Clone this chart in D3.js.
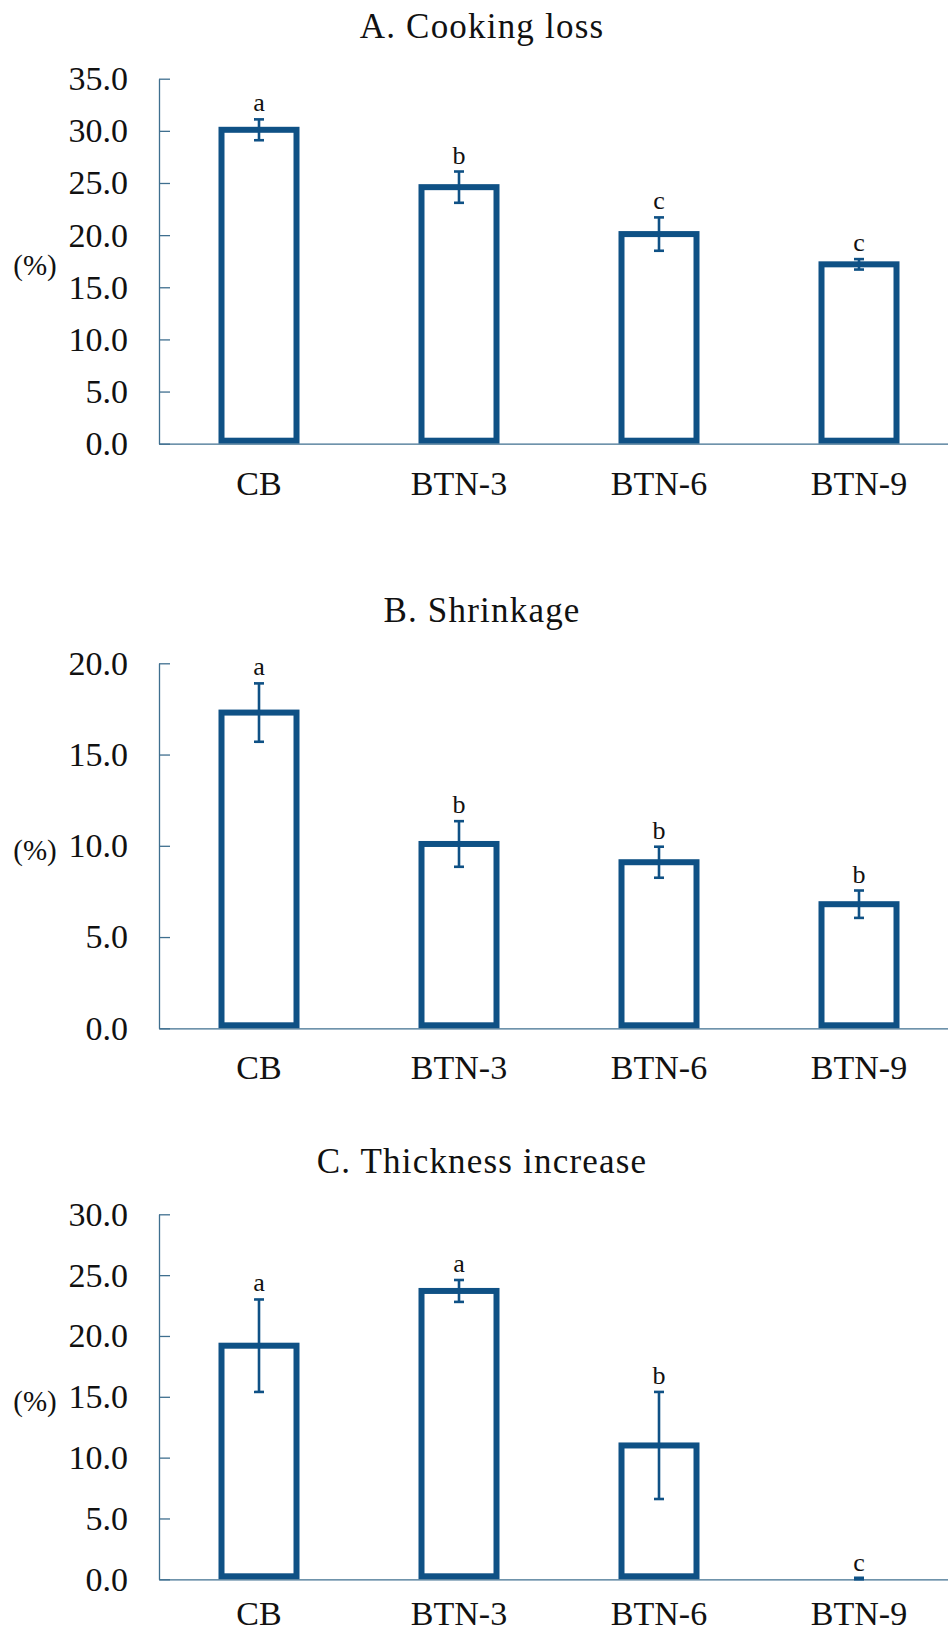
<!DOCTYPE html>
<html>
<head>
<meta charset="utf-8">
<script src="https://cdn.jsdelivr.net/npm/d3@7"></script>
<style>
  html, body { margin: 0; padding: 0; background: #fff; }
  svg { display: block; font-family: "Liberation Serif", "Times New Roman", serif; }
</style>
</head>
<body>
<svg id="chart" width="948" height="1634"></svg>
<script>
// groups on the x axis
const categories = ['CB', 'BTN-3', 'BTN-6', 'BTN-9'];

// A. Cooking loss (%)
const cookingLoss = [30.1, 24.6, 20.1, 17.2];
const cookingLossErr = [1.0, 1.5, 1.6, 0.5];
const cookingLossLetters = ['a', 'b', 'c', 'c'];

// B. Shrinkage (%)
const shrinkage = [17.3, 10.1, 9.1, 6.8];
const shrinkageErr = [1.6, 1.25, 0.85, 0.75];
const shrinkageLetters = ['a', 'b', 'b', 'b'];

// C. Thickness increase (%)
const thickness = [19.2, 23.7, 11.0, 0.0];
const thicknessErr = [3.8, 0.9, 4.4, 0.0];
const thicknessLetters = ['a', 'a', 'b', 'c'];

const ticksA = [0, 5, 10, 15, 20, 25, 30, 35];
const ticksB = [0, 5, 10, 15, 20];
const ticksC = [0, 5, 10, 15, 20, 25, 30];

const BLUE = '#0f5185';
const AXIS = '#3f6f8f';
const INK = '#111';
const SERIF = '"Liberation Serif", "Times New Roman", serif';

const svg = d3.select('#chart');

const x = d3.scaleBand()
  .domain(categories)
  .range([159, 959])
  .paddingInner(0.625)
  .paddingOuter(0.3125);

// 三個面板：軸頂端 y 不同，高度都是 365；最後一張的 x 標籤貼近底邊，略往上收
const panels = [
  { title: 'A. Cooking loss', top: 78.7, max: 35, ticks: ticksA, labelPad: 27,
    values: cookingLoss, errs: cookingLossErr, letters: cookingLossLetters },
  { title: 'B. Shrinkage', top: 663.3, max: 20, ticks: ticksB, labelPad: 27,
    values: shrinkage, errs: shrinkageErr, letters: shrinkageLetters },
  { title: 'C. Thickness increase', top: 1214.3, max: 30, ticks: ticksC, labelPad: 22,
    values: thickness, errs: thicknessErr, letters: thicknessLetters },
];

const PLOT_H = 365;
const STROKE = 6;

panels.forEach((p) => {
  const y = d3.scaleLinear().domain([0, p.max]).range([p.top + PLOT_H, p.top]);
  const g = svg.append('g');
  const rows = categories.map((c, i) => ({ c, v: p.values[i], e: p.errs[i], l: p.letters[i] }));

  // title
  g.append('text')
    .attr('x', 482)
    .attr('y', p.top - 41)
    .attr('text-anchor', 'middle')
    .attr('font-size', 35)
    .attr('letter-spacing', 1.2)
    .attr('fill', INK)
    .text(p.title);

  // y axis (ticks point inward)
  const yAxis = g.append('g')
    .attr('transform', `translate(${x.range()[0]},0)`)
    .call(d3.axisLeft(y)
      .tickValues(p.ticks)
      .tickFormat(d3.format('.1f'))
      .tickSizeInner(-11)
      .tickSizeOuter(0)
      .tickPadding(31));
  yAxis.select('.domain').attr('stroke', AXIS).attr('stroke-width', 1.3);
  yAxis.selectAll('.tick line').attr('stroke', AXIS).attr('stroke-width', 1.3);
  yAxis.selectAll('.tick text')
    .attr('font-size', 34)
    .attr('font-family', SERIF)
    .attr('fill', INK);

  // unit label
  g.append('text')
    .attr('x', 35)
    .attr('y', p.top + PLOT_H / 2 + 4)
    .attr('text-anchor', 'middle')
    .attr('dominant-baseline', 'central')
    .attr('font-size', 29)
    .attr('fill', INK)
    .text('(%)');

  // bars
  g.selectAll('rect.bar')
    .data(rows.filter((d) => d.v > 0))
    .join('rect')
    .attr('class', 'bar')
    .attr('x', (d) => x(d.c))
    .attr('y', (d) => y(d.v))
    .attr('width', x.bandwidth())
    .attr('height', (d) => y(0) - y(d.v) - STROKE / 2)
    .attr('fill', '#fff')
    .attr('stroke', BLUE)
    .attr('stroke-width', STROKE);

  // x axis
  const xAxis = g.append('g')
    .attr('transform', `translate(0,${y(0)})`)
    .call(d3.axisBottom(x).tickSize(0).tickPadding(p.labelPad));
  xAxis.select('.domain').attr('stroke', AXIS).attr('stroke-width', 1.3);
  xAxis.selectAll('.tick text')
    .attr('font-size', 34)
    .attr('font-family', SERIF)
    .attr('fill', INK);

  // error bars
  const cx = (d) => x(d.c) + x.bandwidth() / 2;
  const eb = g.selectAll('g.err').data(rows).join('g').attr('class', 'err')
    .attr('stroke', BLUE).attr('stroke-width', 2.6);
  eb.append('line')
    .attr('x1', cx).attr('x2', cx)
    .attr('y1', (d) => y(d.v + d.e)).attr('y2', (d) => y(d.v - d.e));
  eb.append('line')
    .attr('x1', (d) => cx(d) - 5).attr('x2', (d) => cx(d) + 5)
    .attr('y1', (d) => y(d.v + d.e)).attr('y2', (d) => y(d.v + d.e));
  eb.append('line')
    .attr('x1', (d) => cx(d) - 5).attr('x2', (d) => cx(d) + 5)
    .attr('y1', (d) => y(d.v - d.e) - (d.v === 0 ? 1.5 : 0))
    .attr('y2', (d) => y(d.v - d.e) - (d.v === 0 ? 1.5 : 0));

  // significance letters
  g.selectAll('text.letter')
    .data(rows)
    .join('text')
    .attr('class', 'letter')
    .attr('x', cx)
    .attr('y', (d) => y(d.v + d.e) - 8)
    .attr('text-anchor', 'middle')
    .attr('font-size', 26)
    .attr('fill', INK)
    .text((d) => d.l);
});
</script>
</body>
</html>
